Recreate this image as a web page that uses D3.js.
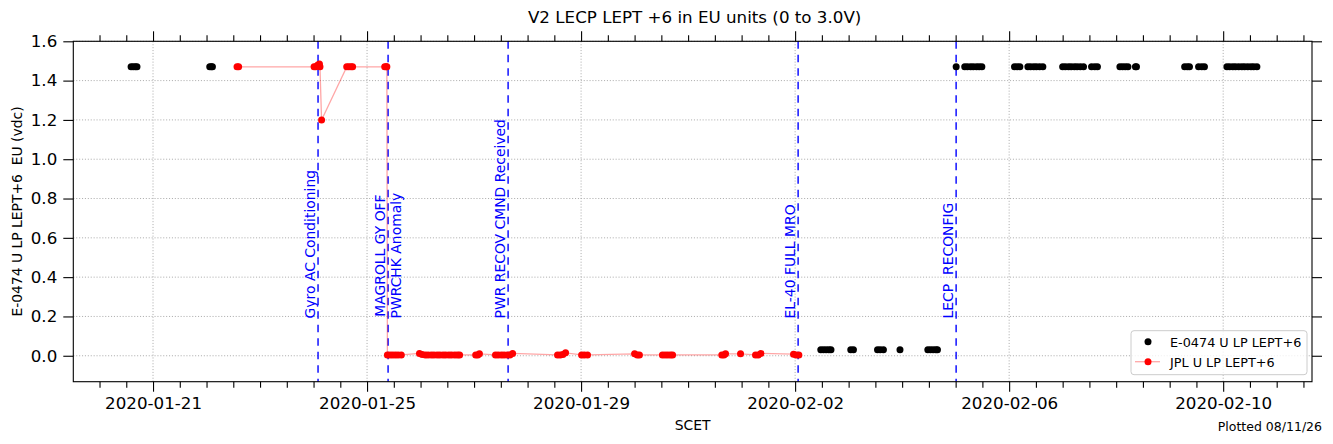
<!DOCTYPE html>
<html>
<head>
<meta charset="utf-8">
<script src="https://cdn.jsdelivr.net/npm/d3@7"></script>
<style>
body { margin: 0; background: #fff; }
text { font-family: "DejaVu Sans", sans-serif; }
</style>
</head>
<body>
<div id="chart"></div>
<script>
// Times are day-of-January 2020 (UTC, fractional), so Feb 2 = 33
const xTickLabels = ["2020-01-21", "2020-01-25", "2020-01-29", "2020-02-02", "2020-02-06", "2020-02-10"]
const yTicks = [0.0, 0.2, 0.4, 0.6, 0.8, 1.0, 1.2, 1.4, 1.6]

// E-0474 U LP LEPT+6 (black)
const e0474Points = [
    [20.59, 1.47], [20.63, 1.47], [20.67, 1.47], [20.70, 1.47],
    [22.06, 1.47], [22.09, 1.47], [22.11, 1.47],
    [33.48, 0.03], [33.53, 0.03], [33.58, 0.03], [33.63, 0.03], [33.67, 0.03],
    [34.04, 0.03], [34.09, 0.03],
    [34.54, 0.03], [34.59, 0.03], [34.65, 0.03],
    [34.96, 0.03],
    [35.48, 0.03], [35.53, 0.03], [35.58, 0.03], [35.63, 0.03], [35.66, 0.03],
    [36.01, 1.47],
    [36.17, 1.47], [36.22, 1.47], [36.28, 1.47], [36.33, 1.47], [36.39, 1.47], [36.44, 1.47], [36.49, 1.47],
    [37.10, 1.47], [37.15, 1.47], [37.20, 1.47],
    [37.35, 1.47], [37.40, 1.47], [37.46, 1.47], [37.51, 1.47], [37.57, 1.47], [37.63, 1.47],
    [38.00, 1.47], [38.05, 1.47], [38.11, 1.47], [38.16, 1.47], [38.22, 1.47], [38.27, 1.47], [38.33, 1.47], [38.39, 1.47],
    [38.54, 1.47], [38.60, 1.47], [38.65, 1.47],
    [39.07, 1.47], [39.12, 1.47], [39.17, 1.47], [39.22, 1.47],
    [39.36, 1.47], [39.38, 1.47],
    [40.28, 1.47], [40.33, 1.47], [40.37, 1.47],
    [40.54, 1.47], [40.60, 1.47], [40.65, 1.47],
    [41.07, 1.47], [41.12, 1.47], [41.18, 1.47], [41.23, 1.47], [41.29, 1.47], [41.35, 1.47],
    [41.40, 1.47], [41.46, 1.47], [41.52, 1.47], [41.57, 1.47], [41.63, 1.47]
]

// JPL U LP LEPT+6 (red), in time order
const jplPoints = [
    [22.57, 1.47], [22.60, 1.47],
    [24.01, 1.47], [24.04, 1.47], [24.08, 1.48], [24.11, 1.485], [24.12, 1.47], [24.15, 1.20],
    [24.62, 1.47], [24.66, 1.47], [24.70, 1.47], [24.73, 1.47],
    [25.33, 1.47], [25.36, 1.47], [25.37, 1.47],
    [25.38, 0.004], [25.43, 0.004], [25.48, 0.004], [25.53, 0.004], [25.58, 0.004], [25.64, 0.004],
    [25.98, 0.012], [26.03, 0.006], [26.09, 0.004], [26.14, 0.004], [26.20, 0.004], [26.25, 0.004],
    [26.31, 0.004], [26.36, 0.004], [26.42, 0.004], [26.47, 0.004], [26.53, 0.004], [26.58, 0.004],
    [26.64, 0.004], [26.69, 0.004], [26.73, 0.004],
    [27.03, 0.004], [27.07, 0.004], [27.10, 0.01],
    [27.40, 0.004], [27.45, 0.004], [27.51, 0.004], [27.56, 0.004], [27.62, 0.004], [27.67, 0.004], [27.72, 0.012],
    [28.56, 0.004], [28.61, 0.004], [28.66, 0.006], [28.71, 0.015],
    [29.01, 0.004], [29.06, 0.004], [29.12, 0.004],
    [30.00, 0.01], [30.05, 0.004], [30.09, 0.004],
    [30.52, 0.004], [30.57, 0.004], [30.62, 0.004], [30.67, 0.004], [30.71, 0.004],
    [31.63, 0.004], [31.67, 0.004], [31.70, 0.01],
    [31.98, 0.01],
    [32.26, 0.004], [32.31, 0.004], [32.36, 0.012],
    [32.97, 0.008], [33.02, 0.004], [33.07, 0.004]
]

// Event markers (blue dashed lines)
const eventDays = [24.084, 25.393, 27.636, 33.056, 36.009]
const eventLabels = [
    ["Gyro AC Conditioning"],
    ["MAGROLL GY OFF", "PWRCHK Anomaly"],
    ["PWR RECOV CMND Received"],
    ["EL-40 FULL MRO"],
    ["LECP  RECONFIG"]
]

const seriesNames = ["E-0474 U LP LEPT+6", "JPL U LP LEPT+6"]

const toDate = d => new Date(Date.UTC(2020, 0, 1) + (d - 1) * 864e5)

const width = 1333
const height = 444
const margin = { top: 41.3, right: 21, bottom: 62.3, left: 73.3 }
const innerW = width - margin.left - margin.right
const innerH = height - margin.top - margin.bottom

const svg = d3.select("#chart").append("svg")
    .attr("width", width)
    .attr("height", height)

const g = svg.append("g")
    .attr("transform", `translate(${margin.left}, ${margin.top})`)

// Scales
const x = d3.scaleUtc().domain([toDate(19.51), toDate(42.66)]).range([0, innerW])
const y = d3.scaleLinear().domain([-0.132, 1.6]).range([innerH, 0])

const parseDay = d3.utcParse("%Y-%m-%d")
const majorDates = xTickLabels.map(parseDay)
const majorSet = new Set(majorDates.map(d => +d))
const minorDates = d3.utcHour.every(12).range(x.domain()[0], x.domain()[1]).filter(d => !majorSet.has(+d))

// Grid
g.append("g").selectAll("line").data(majorDates).join("line")
    .attr("x1", d => x(d)).attr("x2", d => x(d))
    .attr("y1", 0).attr("y2", innerH)
    .attr("stroke", "#b0b0b0").attr("stroke-width", 1).attr("stroke-dasharray", "1.1,1.8")
g.append("g").selectAll("line").data(yTicks).join("line")
    .attr("x1", 0).attr("x2", innerW)
    .attr("y1", d => y(d)).attr("y2", d => y(d))
    .attr("stroke", "#b0b0b0").attr("stroke-width", 1).attr("stroke-dasharray", "1.1,1.8")

// Event lines
g.append("g").selectAll("line").data(eventDays).join("line")
    .attr("x1", d => x(toDate(d))).attr("x2", d => x(toDate(d)))
    .attr("y1", 0).attr("y2", innerH)
    .attr("stroke", "blue").attr("stroke-width", 1.4).attr("stroke-dasharray", "7.5,6")

// Event labels, rotated, lines centred on each other
const labelStartY = y(0.19)
eventDays.forEach((d, i) => {
    const t = g.append("text")
        .attr("transform", `translate(${x(toDate(d)) - 3}, ${labelStartY}) rotate(-90)`)
        .attr("fill", "blue")
        .attr("font-size", "13.9px")
    const spans = eventLabels[i].map((s, j) => t.append("tspan")
        .attr("x", 0).attr("y", j * 15.5)
        .style("white-space", "pre")
        .text(s))
    const lens = spans.map(s => s.node().getComputedTextLength())
    const maxLen = d3.max(lens)
    spans.forEach((s, j) => s.attr("x", (maxLen - lens[j]) / 2))
})

// JPL line + points
const line = d3.line().x(d => x(toDate(d[0]))).y(d => y(d[1]))
g.append("path")
    .datum(jplPoints)
    .attr("fill", "none")
    .attr("stroke", "red")
    .attr("stroke-opacity", 0.35)
    .attr("stroke-width", 1.3)
    .attr("d", line)

g.append("g").selectAll("circle").data(e0474Points).join("circle")
    .attr("cx", d => x(toDate(d[0]))).attr("cy", d => y(d[1]))
    .attr("r", 3.5).attr("fill", "black")

g.append("g").selectAll("circle").data(jplPoints).join("circle")
    .attr("cx", d => x(toDate(d[0]))).attr("cy", d => y(d[1]))
    .attr("r", 3.5).attr("fill", "red")

// Axes
const styleAxis = sel => {
    sel.select(".domain").remove()
    sel.selectAll("line").attr("stroke", "black").attr("stroke-width", 1.1)
    sel.selectAll("text").attr("font-size", "16.7px").attr("fill", "#000")
}
g.append("g").attr("transform", `translate(0, ${innerH})`)
    .call(d3.axisBottom(x).tickValues(majorDates).tickFormat(d3.utcFormat("%Y-%m-%d")).tickSize(10).tickPadding(5))
    .call(styleAxis)
g.append("g").attr("transform", `translate(0, ${innerH})`)
    .call(d3.axisBottom(x).tickValues(minorDates).tickFormat("").tickSize(6))
    .call(styleAxis)
g.append("g")
    .call(d3.axisTop(x).tickValues(majorDates).tickFormat("").tickSize(10))
    .call(styleAxis)
g.append("g")
    .call(d3.axisTop(x).tickValues(minorDates).tickFormat("").tickSize(6))
    .call(styleAxis)
g.append("g")
    .call(d3.axisLeft(y).tickValues(yTicks).tickFormat(d3.format(".1f")).tickSize(10).tickPadding(6))
    .call(styleAxis)
g.append("g").attr("transform", `translate(${innerW}, 0)`)
    .call(d3.axisRight(y).tickValues(yTicks).tickFormat("").tickSize(10))
    .call(styleAxis)

// Frame
g.append("rect")
    .attr("width", innerW).attr("height", innerH)
    .attr("fill", "none").attr("stroke", "black").attr("stroke-width", 1.1)

// Titles
svg.append("text")
    .attr("x", margin.left + innerW / 2 + 2).attr("y", 23)
    .attr("text-anchor", "middle").attr("font-size", "16.7px")
    .text("V2 LECP LEPT +6 in EU units (0 to 3.0V)")
svg.append("text")
    .attr("x", margin.left + innerW / 2).attr("y", 430)
    .attr("text-anchor", "middle").attr("font-size", "13.9px")
    .text("SCET")
svg.append("text")
    .attr("transform", `translate(22, ${margin.top + innerH / 2}) rotate(-90)`)
    .attr("text-anchor", "middle").attr("font-size", "13.9px")
    .style("white-space", "pre")
    .text("E-0474 U LP LEPT+6  EU (vdc)")
svg.append("text")
    .attr("x", 1322).attr("y", 431)
    .attr("text-anchor", "end").attr("font-size", "12.5px")
    .text("Plotted 08/11/26")

// Legend
const legend = svg.append("g").attr("transform", `translate(${margin.left + innerW - 181}, ${margin.top + innerH - 51})`)
legend.append("rect")
    .attr("width", 176).attr("height", 44).attr("rx", 3)
    .attr("fill", "white").attr("fill-opacity", 0.8)
    .attr("stroke", "#cccccc").attr("stroke-width", 1)
legend.append("circle").attr("cx", 17).attr("cy", 11).attr("r", 3.5).attr("fill", "black")
legend.append("line").attr("x1", 4).attr("x2", 29).attr("y1", 31).attr("y2", 31)
    .attr("stroke", "red").attr("stroke-opacity", 0.35).attr("stroke-width", 1.3)
legend.append("circle").attr("cx", 17).attr("cy", 31).attr("r", 3.5).attr("fill", "red")
seriesNames.forEach((s, i) => {
    legend.append("text")
        .attr("x", 39).attr("y", 16 + i * 20)
        .attr("font-size", "12.8px")
        .text(s)
})
</script>
</body>
</html>
